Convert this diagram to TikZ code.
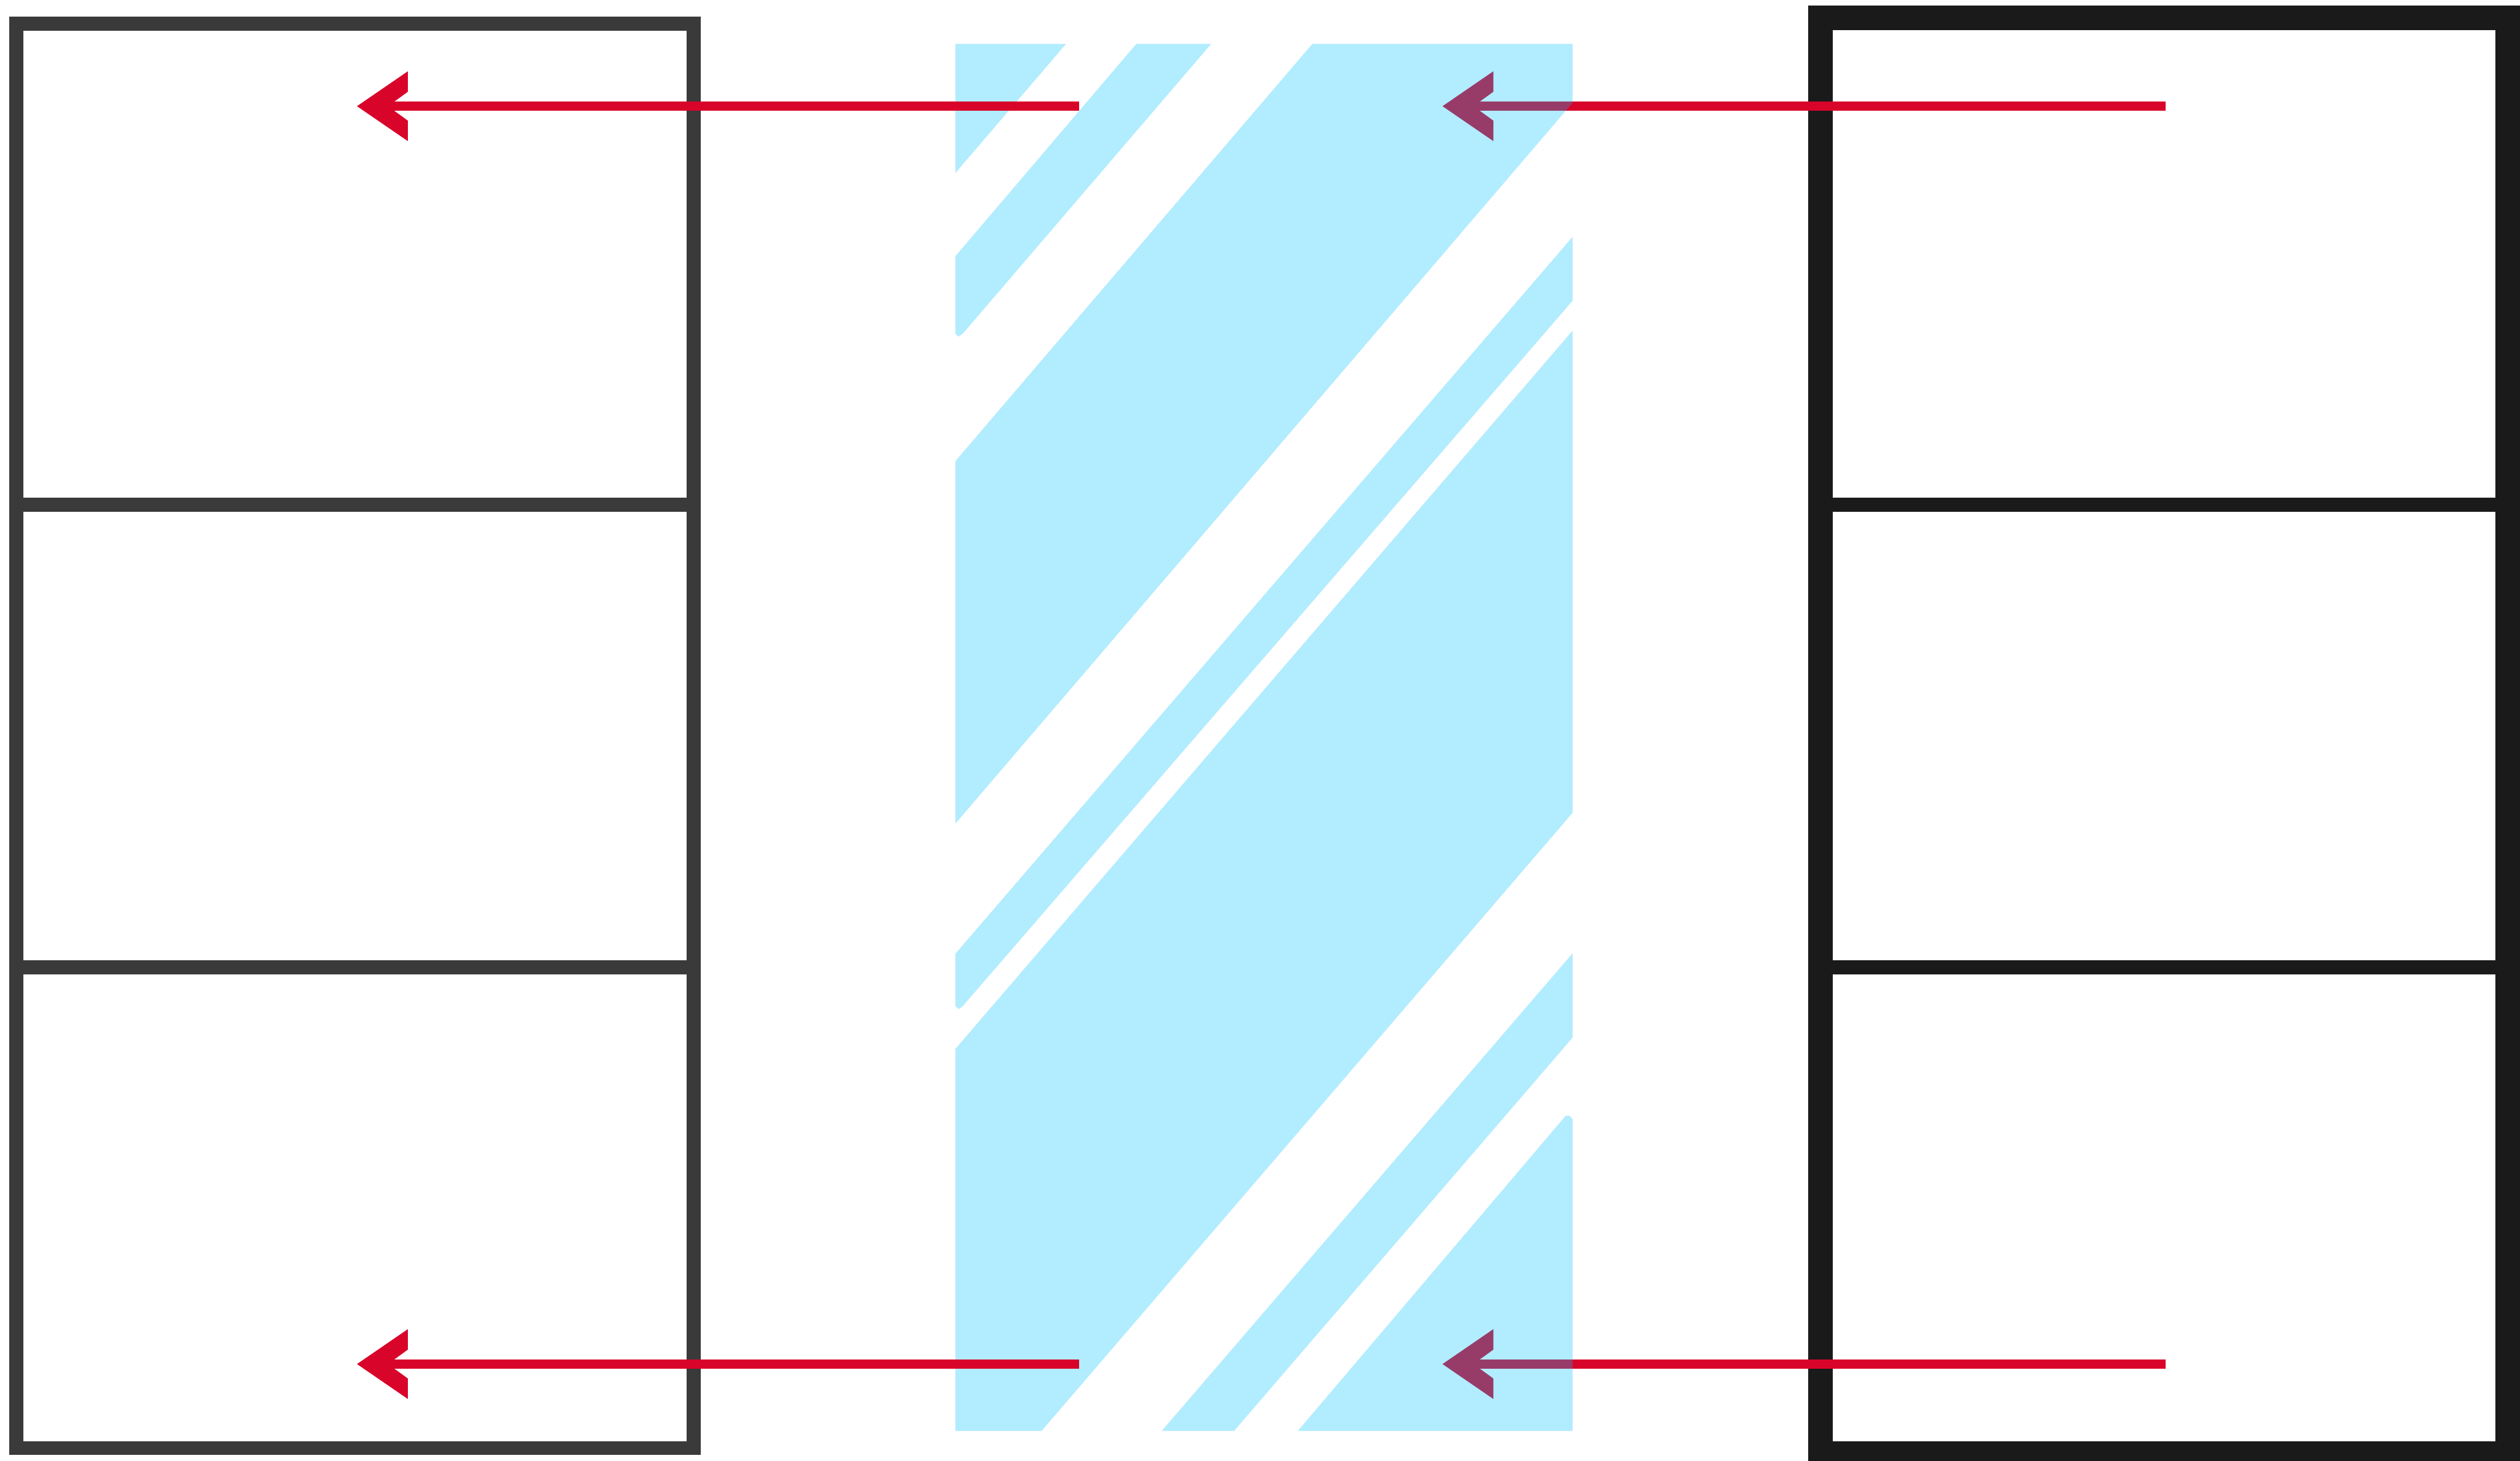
\documentclass[tikz,border=0pt]{standalone}
\usepackage{xcolor}
\definecolor{framegray}{HTML}{3A3A3A}
\definecolor{frameblack}{HTML}{1A1A1A}
\definecolor{raycrimson}{HTML}{D90429}
\definecolor{stripesky}{HTML}{00BFFF}
\usepackage{tikz}
\usetikzlibrary{arrows.meta}

\pgfdeclarearrow{
  name=Notched,
  setup code={
    \pgfarrowssettipend{0pt}
    \pgfarrowssetlineend{-8.5pt}
    \pgfarrowssetbackend{-14.51pt}
    \pgfarrowssetvisualbackend{-8.82pt}
    \pgfarrowshullpoint{0pt}{0pt}
    \pgfarrowsupperhullpoint{-14.51pt}{9.96pt}
  },
  drawing code={
    \pgfpathmoveto{\pgfqpoint{0pt}{0pt}}
    \pgfpathlineto{\pgfqpoint{-14.51pt}{9.96pt}}
    \pgfpathlineto{\pgfqpoint{-14.51pt}{4.13pt}}
    \pgfpathlineto{\pgfqpoint{-8.82pt}{0pt}}
    \pgfpathlineto{\pgfqpoint{-14.51pt}{-4.13pt}}
    \pgfpathlineto{\pgfqpoint{-14.51pt}{-9.96pt}}
    \pgfpathclose
    \pgfusepathqfill
  }
}

\begin{document}
\begin{tikzpicture}[
  thinframe/.style={draw=framegray, line width=0.14cm, inner sep=0pt, outer sep=0pt,
                    minimum width=6.79cm, minimum height=14.285cm},
  thickframe/.style={draw=frameblack, line width=0.25cm, inner sep=0pt, outer sep=0pt,
                     minimum width=6.895cm, minimum height=14.4cm},
  thindiv/.style={draw=framegray, line width=0.14cm},
  thickdiv/.style={draw=frameblack, line width=0.14cm},
  stripe/.style={fill=stripesky, opacity=0.3},
  arr/.style={-Notched, draw=raycrimson, line width=0.095cm}
]
  \useasboundingbox (0,0) rectangle (25.27,14.65);

  \node[thinframe] (lbox) at (3.56,7.27) {};
  \node[thickframe] (rbox) at (21.7025,7.27) {};

  \coordinate (la) at (0.165,9.59);
  \coordinate (lb) at (6.955,9.59);
  \coordinate (lc) at (0.165,4.95);
  \coordinate (ld) at (6.955,4.95);
  \coordinate (ra) at (18.3,9.59);
  \coordinate (rb) at (25.1,9.59);
  \coordinate (rc) at (18.3,4.95);
  \coordinate (rd) at (25.1,4.95);
  \draw[thindiv] (la) -- (lb);
  \draw[thindiv] (lc) -- (ld);
  \draw[thickdiv] (ra) -- (rb);
  \draw[thickdiv] (rc) -- (rd);

  \coordinate (topfrom) at (21.715,13.585);
  \coordinate (topto) at (14.465,13.585);
  \coordinate (botfrom) at (21.715,0.97);
  \coordinate (botto) at (14.465,0.97);
  \draw[arr] (topfrom) -- (topto);
  \draw[arr] (botfrom) -- (botto);

  \fill[stripe] (9.58,14.21) -- (10.69,14.21) -- (9.58,12.915) -- cycle;
  \fill[stripe] (11.395,14.21) -- (12.145,14.21) -- (9.66,11.31) -- (9.615,11.275) -- (9.58,11.3) -- (9.58,12.08) -- cycle;
  \fill[stripe] (13.16,14.21) -- (15.77,14.21) -- (15.77,13.62) -- (9.58,6.39) -- (9.58,10.025) -- cycle;
  \fill[stripe] (15.77,12.275) -- (15.77,11.635) -- (9.65,4.555) -- (9.615,4.53) -- (9.58,4.56) -- (9.58,5.085) -- cycle;
  \fill[stripe] (15.77,11.335) -- (15.77,6.5) -- (10.445,0.3) -- (9.58,0.3) -- (9.58,4.13) -- cycle;
  \fill[stripe] (15.77,5.09) -- (15.77,4.245) -- (12.375,0.3) -- (11.65,0.3) -- cycle;
  \fill[stripe] (15.7,3.46) -- (15.74,3.46) -- (15.77,3.425) -- (15.77,0.3) -- (13.015,0.3) -- cycle;

  \coordinate (ltopfrom) at (10.82,13.585);
  \coordinate (ltopto) at (3.58,13.585);
  \coordinate (lbotfrom) at (10.82,0.97);
  \coordinate (lbotto) at (3.58,0.97);
  \draw[arr] (ltopfrom) -- (ltopto);
  \draw[arr] (lbotfrom) -- (lbotto);

\end{tikzpicture}
\end{document}
